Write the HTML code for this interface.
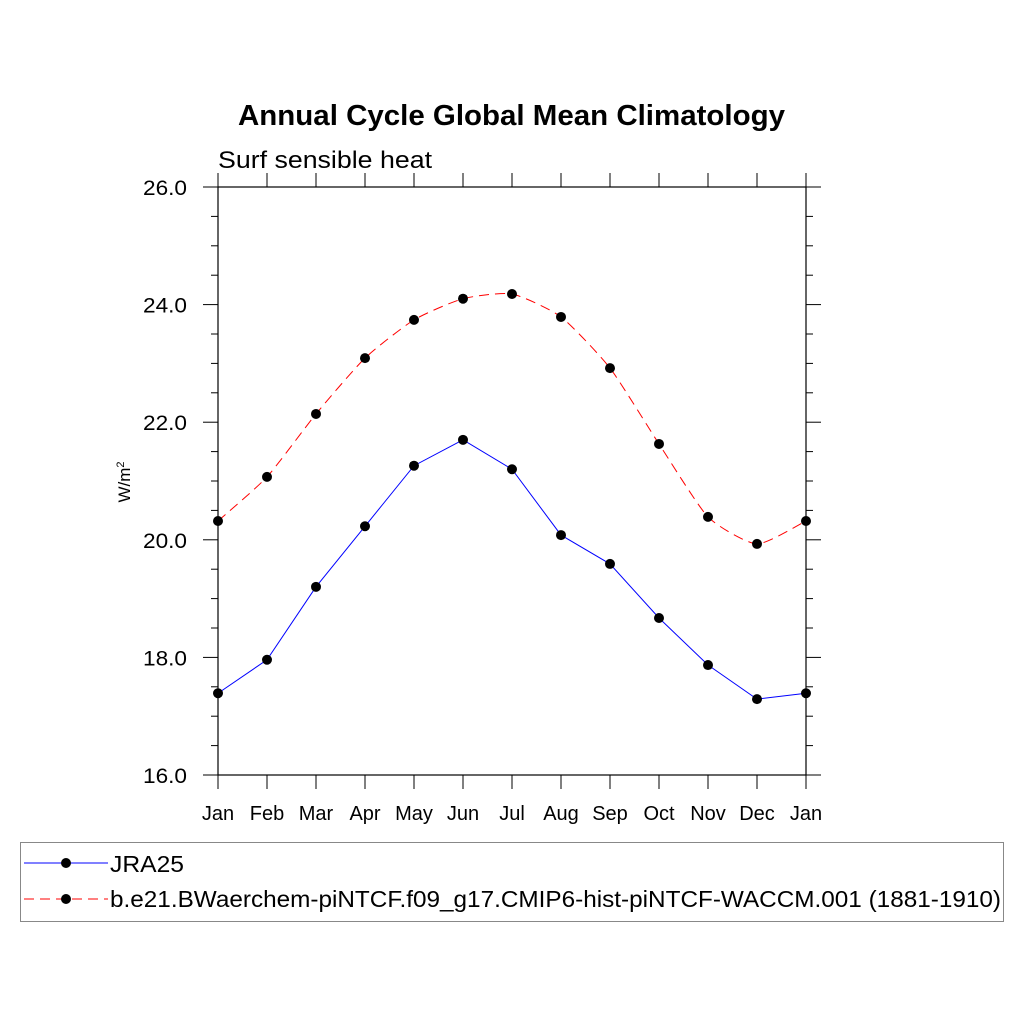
<!DOCTYPE html>
<html><head><meta charset="utf-8"><style>
body{margin:0;background:#fff;}
svg text{font-family:"Liberation Sans",sans-serif;}
</style></head><body>
<svg id="chart" width="1024" height="1024" viewBox="0 0 1024 1024" xmlns="http://www.w3.org/2000/svg">
<rect width="1024" height="1024" fill="#fff"/>
<text x="238" y="125" font-size="29" font-weight="bold" textLength="547" lengthAdjust="spacingAndGlyphs">Annual Cycle Global Mean Climatology</text>
<text x="218" y="168" font-size="24" textLength="214" lengthAdjust="spacingAndGlyphs">Surf sensible heat</text>
<text transform="translate(130,482) rotate(-90)" text-anchor="middle" font-size="17">W/m<tspan dy="-6" font-size="11">2</tspan></text>
<g id="axes"></g>
<g id="series"></g>
<rect x="20.5" y="842.5" width="983" height="79" fill="none" stroke="#888" stroke-width="1"/>
<g>
<line x1="24" y1="863" x2="108" y2="863" stroke="#00f" stroke-width="1"/>
<circle cx="66" cy="863" r="5" fill="#000"/>
<text x="110" y="872" font-size="23" textLength="74" lengthAdjust="spacingAndGlyphs">JRA25</text>
</g>
<g>
<line x1="24" y1="899" x2="108" y2="899" stroke="#f00" stroke-width="1" stroke-dasharray="10,6"/>
<circle cx="66" cy="899" r="5" fill="#000"/>
<text x="110" y="907" font-size="23" textLength="891" lengthAdjust="spacingAndGlyphs">b.e21.BWaerchem-piNTCF.f09_g17.CMIP6-hist-piNTCF-WACCM.001 (1881-1910)</text>
</g>
</svg>
<script>
const months=["Jan","Feb","Mar","Apr","May","Jun","Jul","Aug","Sep","Oct","Nov","Dec","Jan"];
const jra25=[17.39,17.96,19.20,20.23,21.26,21.70,21.20,20.08,19.59,18.67,17.87,17.29,17.39];
const model=[20.32,21.07,22.14,23.09,23.74,24.10,24.18,23.79,22.92,21.63,20.39,19.93,20.32];
const yTicks=[16,18,20,22,24,26];
const yTickLabels=["16.0","18.0","20.0","22.0","24.0","26.0"];
const NS="http://www.w3.org/2000/svg";
const L=218,R=806,T=187,B=775,ymin=16,ymax=26;
const xs=i=>L+(R-L)*i/(months.length-1);
const ys=v=>B-(v-ymin)/(ymax-ymin)*(B-T);
function mk(tag,attrs,parent){const e=document.createElementNS(NS,tag);for(const k in attrs)e.setAttribute(k,attrs[k]);parent.appendChild(e);return e;}
const ax=document.getElementById('axes');
const frame=mk('rect',{x:L,y:T,width:R-L,height:B-T,fill:'none',stroke:'#000','stroke-width':1.2},ax);


for(let v=ymin;v<=ymax+1e-9;v+=0.5){
  const y=ys(v);const major=Math.abs(v/2-Math.round(v/2))<1e-9;const len=major?15:7;
  const t1=mk('line',{x1:L-len,y1:y,x2:L,y2:y,stroke:'#000','stroke-width':1},ax);
  
  
  const t2=mk('line',{x1:R,y1:y,x2:R+len,y2:y,stroke:'#000','stroke-width':1},ax);
  
  
}
yTicks.forEach((v,i)=>{
  const t=mk('text',{x:187,y:ys(v)+8,'text-anchor':'end','font-size':21,textLength:44,lengthAdjust:'spacingAndGlyphs'},ax);t.textContent=yTickLabels[i];
  
  
});
months.forEach((m,i)=>{
  const x=xs(i);
  const a=mk('line',{x1:x,y1:B,x2:x,y2:B+14,stroke:'#000','stroke-width':1},ax);
  
  
  const b=mk('line',{x1:x,y1:T-14,x2:x,y2:T,stroke:'#000','stroke-width':1},ax);
  
  
  const t=mk('text',{x:x,y:B+45,'text-anchor':'middle','font-size':20},ax);t.textContent=m;
  
  
});
function smooth(pts){let d=`M${pts[0][0]},${pts[0][1]}`;for(let i=0;i<pts.length-1;i++){const p0=pts[Math.max(0,i-1)],p1=pts[i],p2=pts[i+1],p3=pts[Math.min(pts.length-1,i+2)];
const k=10;const c1=[p1[0]+(p2[0]-p0[0])/k,p1[1]+(p2[1]-p0[1])/k],c2=[p2[0]-(p3[0]-p1[0])/k,p2[1]-(p3[1]-p1[1])/k];d+=` C${c1[0]},${c1[1]} ${c2[0]},${c2[1]} ${p2[0]},${p2[1]}`;}return d;}
const sg=document.getElementById('series');
const pj=jra25.map((v,i)=>[xs(i),ys(v)]);
const lj=mk('polyline',{points:pj.map(p=>p.join(',')).join(' '),fill:'none',stroke:'#00f','stroke-width':1},sg);


const pm=model.map((v,i)=>[xs(i),ys(v)]);
const lm=mk('path',{d:smooth(pm),fill:'none',stroke:'#f00','stroke-width':1,'stroke-dasharray':'10,6'},sg);


pj.forEach(p=>{const c=mk('circle',{cx:p[0],cy:p[1],r:5,fill:'#000'},sg);

});
pm.forEach(p=>{const c=mk('circle',{cx:p[0],cy:p[1],r:5,fill:'#000'},sg);

});
</script>
</body></html>
